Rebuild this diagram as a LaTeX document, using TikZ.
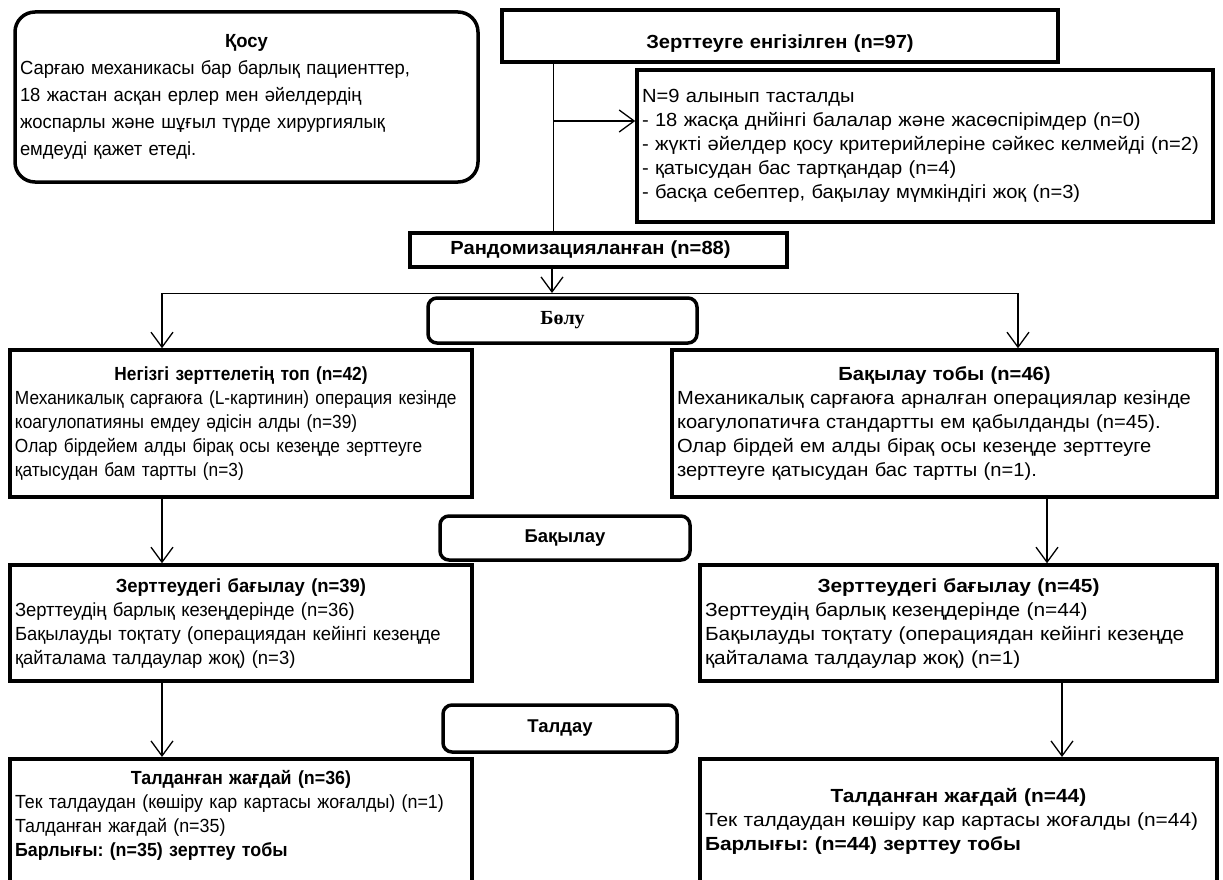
\documentclass[tikz,border=0pt]{standalone}
\usepackage{fontspec}
\setmainfont{Liberation Sans}
\newfontfamily\bolufont{Liberation Serif}
\newfontfamily\famA{Liberation Sans}[FakeStretch=0.91]
\newfontfamily\famF{Liberation Sans}[FakeStretch=0.94]
\newfontfamily\famB{Liberation Sans}[FakeStretch=0.97]
\newfontfamily\famD{Liberation Sans}[FakeStretch=1.06]
\newfontfamily\famE{Liberation Sans}[FakeStretch=1.10]
\usetikzlibrary{arrows.meta}

\tikzset{
  rbox/.style={draw, line width=3.5pt, rounded corners=9pt, font=\bfseries\fontsize{18.5}{20}\selectfont},
  pbox/.style={draw, line width=3.5pt, inner xsep=5pt, inner ysep=0pt, align=left, font=\fontsize{19}{24}\selectfont},
  arr/.style={line width=1.3pt, -{Straight Barb[length=15pt,width=22pt]}},
  link/.style={line width=1pt}
}
\newcommand{\boxtitle}[1]{\makebox[\linewidth]{\bfseries #1}}

\begin{document}
\frenchspacing
\begin{tikzpicture}[x=1pt,y=-1pt]
    \useasboundingbox (0,0) rectangle (1223,880);
    \clip (0,0) rectangle (1223,880);

    \node[pbox, rounded corners=20pt, text width=453pt, minimum height=170pt, font=\famB\fontsize{19}{27}\selectfont] (incl) at (246.5,97)
      {\boxtitle{Қосу}\\ Сарғаю механикасы бар барлық пациенттер,\\ 18 жастан асқан ерлер мен әйелдердің\\ жоспарлы және шұғыл түрде хирургиялық\\ емдеуді қажет етеді.};

    \node[pbox, text width=546pt, minimum height=52pt, text height=29pt, text depth=3pt, font=\famD\fontsize{19}{24}\selectfont] (enrolled) at (780,36)
      {\boxtitle{Зерттеуге енгізілген (n=97)}};

    \node[pbox, text width=566pt, minimum height=152pt, font=\famD\fontsize{19}{24}\selectfont] (excluded) at (925,146)
      {N=9 алынып тасталды\\ - 18 жасқа днйінгі балалар және жасөспірімдер (n=0)\\ - жүкті әйелдер қосу критерийлеріне сәйкес келмейді (n=2)\\ - қатысудан бас тартқандар (n=4)\\ - басқа себептер, бақылау мүмкіндігі жоқ (n=3)};

    \node[pbox, text width=367pt, minimum height=34pt, font=\famD\fontsize{19}{24}\selectfont] (rand) at (598.5,250)
      {\boxtitle{Рандомизацияланған (n=88)\hspace{16pt}}};

    \node[rbox, minimum width=269pt, minimum height=45pt, font=\bolufont\bfseries\fontsize{20}{22}\selectfont] (alloc) at (562.5,320.5) {Бөлу};

    \node[pbox, text width=452pt, minimum height=147pt, font=\famA\fontsize{19}{24}\selectfont] (grpmain) at (241,423.5)
      {\boxtitle{Негізгі зерттелетің топ (n=42)}\\ Механикалық сарғаюға (L-картинин) операция кезінде\\ коагулопатияны емдеу әдісін алды (n=39)\\ Олар бірдейем алды бірақ осы кезеңде зерттеуге\\ қатысудан бам тартты (n=3)};

    \node[pbox, text width=535pt, minimum height=147pt, font=\famD\fontsize{19}{24}\selectfont] (grpctrl) at (944.5,423.5)
      {\boxtitle{Бақылау тобы (n=46)}\\ Механикалық сарғаюға арналған операциялар кезінде\\ коагулопатичға стандартты ем қабылданды (n=45).\\ Олар бірдей ем алды бірақ осы кезеңде зерттеуге\\ зерттеуге қатысудан бас тартты (n=1).};

    \node[rbox, minimum width=250pt, minimum height=44pt] (follow) at (565,538) {Бақылау};

    \node[pbox, text width=452pt, minimum height=116pt, font=\famB\fontsize{19}{24}\selectfont] (fuL) at (241,623)
      {\boxtitle{Зерттеудегі бағылау (n=39)}\\ Зерттеудің барлық кезеңдерінде (n=36)\\ Бақылауды тоқтату (операциядан кейінгі кезеңде\\ қайталама талдаулар жоқ) (n=3)};

    \node[pbox, text width=507pt, minimum height=116pt, font=\famE\fontsize{19}{24}\selectfont] (fuR) at (958.5,623)
      {\boxtitle{Зерттеудегі бағылау (n=45)}\\ Зерттеудің барлық кезеңдерінде (n=44)\\ Бақылауды тоқтату (операциядан кейінгі кезеңде\\ қайталама талдаулар жоқ) (n=1)};

    \node[rbox, minimum width=234pt, minimum height=47pt] (anal) at (560,728.5) {Талдау};

    \node[pbox, anchor=north, text width=452pt, text height=22pt, text depth=160pt, inner ysep=4pt, font=\famF\fontsize{19}{24}\selectfont] (anL) at (241,757)
      {\boxtitle{Талданған жағдай (n=36)}\\ Тек талдаудан (көшіру кар картасы жоғалды) (n=1)\\ Талданған жағдай (n=35)\\ \textbf{Барлығы: (n=35) зерттеу тобы}};

    \node[pbox, anchor=north, text width=507pt, text height=40pt, text depth=160pt, inner ysep=4pt, font=\famE\fontsize{19}{24}\selectfont] (anR) at (958.5,757)
      {\boxtitle{Талданған жағдай (n=44)}\\ Тек талдаудан көшіру кар картасы жоғалды (n=44)\\ \textbf{Барлығы: (n=44) зерттеу тобы}};

    % connectors
    \coordinate (stem) at (553,121);
    \coordinate (split) at (552,293);
    \coordinate (splitL) at (162,293);
    \coordinate (splitR) at (1018,293);
    \coordinate (rgtA) at (1047,0);
    \coordinate (rgtB) at (1062,0);

    \draw[link] (enrolled.south -| stem) -- (rand.north -| stem);
    \draw[arr] (stem) -- (excluded.west |- stem);
    \draw[arr] (rand.south -| split) -- (split);
    \draw[link] (splitL) -- (splitR);
    \draw[arr] (splitL) -- (grpmain.north -| splitL);
    \draw[arr] (splitR) -- (grpctrl.north -| splitR);
    \draw[arr] (grpmain.south -| splitL) -- (fuL.north -| splitL);
    \draw[arr] (fuL.south -| splitL) -- (anL.north -| splitL);
    \draw[arr] (grpctrl.south -| rgtA) -- (fuR.north -| rgtA);
    \draw[arr] (fuR.south -| rgtB) -- (anR.north -| rgtB);
\end{tikzpicture}
\end{document}
